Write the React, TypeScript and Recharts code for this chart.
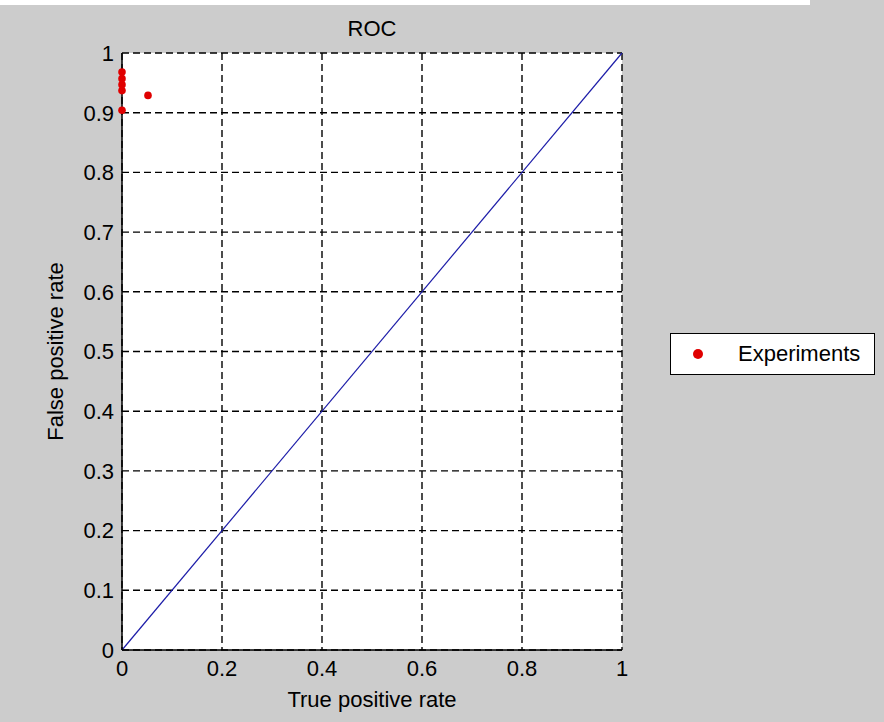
import React from 'react';
import {
  ComposedChart,
  Scatter,
  XAxis,
  YAxis,
  CartesianGrid,
  ReferenceLine,
  Legend,
} from 'recharts';

// experiment points (x: true positive rate, y: false positive rate)
const experimentTpr = [0, 0, 0, 0, 0, 0.052];
const experimentFpr = [0.968, 0.957, 0.947, 0.937, 0.904, 0.929];

// chance diagonal end points
const diagonalX = [0, 1];
const diagonalY = [0, 1];

const xTicks = [0, 0.2, 0.4, 0.6, 0.8, 1];
const yTicks = [0, 0.1, 0.2, 0.3, 0.4, 0.5, 0.6, 0.7, 0.8, 0.9, 1];

const experiments = experimentTpr.map((x, i) => ({ x, y: experimentFpr[i] }));
const diagonal = diagonalX.map((x, i) => ({ x, y: diagonalY[i] }));

const FONT = '"Liberation Sans", Arial, sans-serif';
const FONT_SIZE = 22;
const RED = '#e00000';

const RedDot = (props: any) => {
  const { cx, cy } = props;
  if (cx == null || cy == null) return null;
  return <circle cx={cx} cy={cy} r={3.8} fill={RED} />;
};

const YLabel = (props: any) => {
  const vb = props.viewBox || { x: 0, y: 0, width: 0, height: 0 };
  const x = vb.x + 55;
  const y = vb.y + vb.height / 2;
  return (
    <text
      x={x}
      y={y}
      transform={`rotate(-90 ${x} ${y})`}
      textAnchor="middle"
      dominantBaseline="central"
      fontSize={FONT_SIZE}
      fontFamily={FONT}
      fill="#000"
    >
      False positive rate
    </text>
  );
};

const LegendBox = () => (
  <div
    style={{
      width: 203,
      height: 40,
      background: '#fff',
      border: '1px solid #000',
      display: 'flex',
      alignItems: 'center',
      fontFamily: FONT,
      fontSize: FONT_SIZE,
      color: '#000',
    }}
  >
    <svg width={60} height={40} style={{ flex: 'none' }}>
      <circle cx={27} cy={20} r={5} fill={RED} />
    </svg>
    <span style={{ marginLeft: 7 }}>Experiments</span>
  </div>
);

export default function App() {
  return (
    <div
      style={{
        position: 'relative',
        width: 884,
        height: 722,
        background: '#cccccc',
        fontFamily: FONT,
        overflow: 'hidden',
      }}
    >
      <style>{'body{margin:0}'}</style>
      <div style={{ position: 'absolute', left: 0, top: 0, width: 810, height: 5, background: '#fff' }} />
      <div
        style={{
          position: 'absolute',
          left: 122,
          width: 500,
          top: 16,
          textAlign: 'center',
          fontSize: FONT_SIZE,
          color: '#000',
          lineHeight: '25px',
        }}
      >
        ROC
      </div>
      <ComposedChart
        width={884}
        height={722}
        margin={{ top: 53, right: 262, bottom: 0, left: 0 }}
        style={{ position: 'absolute', left: 0, top: 0 }}
      >
        <CartesianGrid
          fill="#fff"
          fillOpacity={1}
          stroke="#000"
          strokeWidth={1.4}
          strokeDasharray="7 4"
        />
        <XAxis
          type="number"
          dataKey="x"
          domain={[0, 1]}
          ticks={xTicks}
          height={72}
          tickLine={false}
          tickSize={8}
          tickMargin={2}
          axisLine={{ stroke: '#000', strokeWidth: 1.5 }}
          tick={{ fontSize: FONT_SIZE, fontFamily: FONT, fill: '#000' }}
          label={{
            value: 'True positive rate',
            position: 'insideBottom',
            offset: 15,
            fontSize: FONT_SIZE,
            fontFamily: FONT,
            fill: '#000',
          }}
        />
        <YAxis
          type="number"
          dataKey="y"
          domain={[0, 1]}
          ticks={yTicks}
          width={122}
          tickLine={false}
          tickSize={6}
          tickMargin={2}
          axisLine={{ stroke: '#000', strokeWidth: 1.5 }}
          tick={{ fontSize: FONT_SIZE, fontFamily: FONT, fill: '#000' }}
          label={{ content: <YLabel /> }}
        />
        <ReferenceLine
          segment={diagonal}
          stroke="#1c1ca8"
          strokeWidth={1.2}
          ifOverflow="visible"
        />
        <Scatter
          name="Experiments"
          data={experiments}
          fill={RED}
          shape={<RedDot />}
          isAnimationActive={false}
        />
        <Legend
          layout="horizontal"
          align="center"
          verticalAlign="middle"
          content={<LegendBox />}
          wrapperStyle={{ left: 670, top: 333, width: 205, height: 42 }}
        />
      </ComposedChart>
    </div>
  );
}
